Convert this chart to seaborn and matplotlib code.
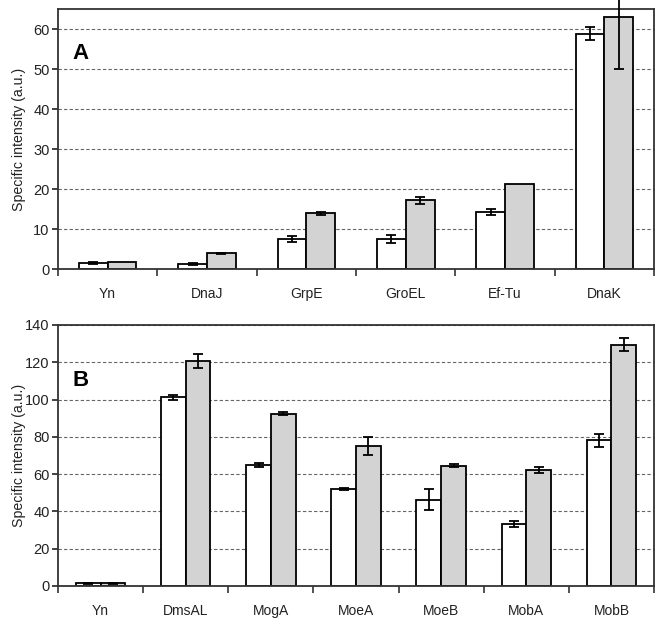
import matplotlib
matplotlib.use('Agg')
import matplotlib.pyplot as plt
from matplotlib.ticker import MultipleLocator, FixedLocator
import seaborn as sns
import pandas as pd

# panel A
cats_a = ['Yn', 'DnaJ', 'GrpE', 'GroEL', 'Ef-Tu', 'DnaK']
white_a = [1.5, 1.2, 7.5, 7.5, 14.2, 58.8]
white_a_err = [0.3, 0.2, 0.8, 1.1, 0.8, 1.6]
gray_a = [1.7, 3.9, 13.9, 17.2, 21.2, 62.9]
gray_a_err = [0.0, 0.2, 0.4, 0.9, 0.0, 13.0]

# panel B
cats_b = ['Yn', 'DmsAL', 'MogA', 'MoeA', 'MoeB', 'MobA', 'MobB']
white_b = [1.5, 101.2, 64.9, 51.9, 46.3, 33.1, 78.1]
white_b_err = [0.3, 1.5, 1.2, 0.4, 5.8, 1.6, 3.6]
gray_b = [1.5, 120.7, 92.4, 75.1, 64.5, 62.2, 129.4]
gray_b_err = [0.2, 3.6, 0.7, 4.6, 0.7, 1.4, 3.6]

groups = ['white', 'gray']
colors = ['white', '#d3d3d3']

sns.set_style('white')
plt.rcParams['font.family'] = ['Liberation Sans', 'DejaVu Sans']


def make_df(cats, w, g):
    rows = []
    for c, v in zip(cats, w):
        rows.append({'protein': c, 'strain': 'white', 'value': v})
    for c, v in zip(cats, g):
        rows.append({'protein': c, 'strain': 'gray', 'value': v})
    return pd.DataFrame(rows)


def draw_panel(ax, cats, w, werr, g, gerr, ymax, ystep, letter, letter_y):
    df = make_df(cats, w, g)
    sns.barplot(data=df, x='protein', y='value', hue='strain',
                hue_order=groups, order=cats, palette=colors,
                edgecolor='black', linewidth=1.3, width=0.58,
                errorbar=None, legend=False, saturation=1, ax=ax)

    # error bars at bar centres (patches go hue level by hue level)
    vals = list(w) + list(g)
    errs = list(werr) + list(gerr)
    xs = [p.get_x() + p.get_width() / 2 for p in ax.patches[:len(vals)]]
    for x, v, e in zip(xs, vals, errs):
        if e > 0:
            ax.errorbar(x, v, yerr=e, fmt='none', ecolor='black',
                        elinewidth=1.3, capsize=3.5, capthick=1.3,
                        clip_on=False, zorder=5)

    ax.set_xlim(-0.5, len(cats) - 0.5)
    ax.set_ylim(0, ymax)
    ax.yaxis.set_major_locator(MultipleLocator(ystep))
    ax.grid(axis='y', color='#666666', linestyle=(0, (3, 2)), linewidth=0.8)
    ax.set_axisbelow(True)

    ax.xaxis.set_minor_locator(FixedLocator([i - 0.5 for i in range(len(cats) + 1)]))
    ax.tick_params(axis='x', which='major', length=0, pad=13, labelsize=10,
                   colors='#222222')
    ax.tick_params(axis='x', which='minor', length=5, width=1.2,
                   direction='out', color='#333333', bottom=True)
    ax.tick_params(axis='y', length=4, width=1.2, direction='out',
                   left=True, labelsize=10.5, colors='#222222', pad=2)

    for s in ax.spines.values():
        s.set_color('#333333')
        s.set_linewidth(1.3)

    ax.set_xlabel('')
    ax.set_ylabel('Specific intensity (a.u.)', fontsize=10.2, color='#222222')
    ax.text(0.025, letter_y, letter, color='black',
            transform=ax.transAxes, fontsize=16, fontweight='bold',
            va='center', ha='left')


fig = plt.figure(figsize=(6.62, 6.22), dpi=100)
ax_a = fig.add_axes([0.0876, 0.5675, 0.9004, 0.418])
ax_b = fig.add_axes([0.0876, 0.0579, 0.9004, 0.4196])

draw_panel(ax_a, cats_a, white_a, white_a_err, gray_a, gray_a_err, 65, 10, 'A', 0.827)
draw_panel(ax_b, cats_b, white_b, white_b_err, gray_b, gray_b_err, 140, 20, 'B', 0.789)

for ax in (ax_a, ax_b):
    ax.yaxis.set_label_coords(-0.054, 0.5)

fig.savefig('out.png', dpi=100)
